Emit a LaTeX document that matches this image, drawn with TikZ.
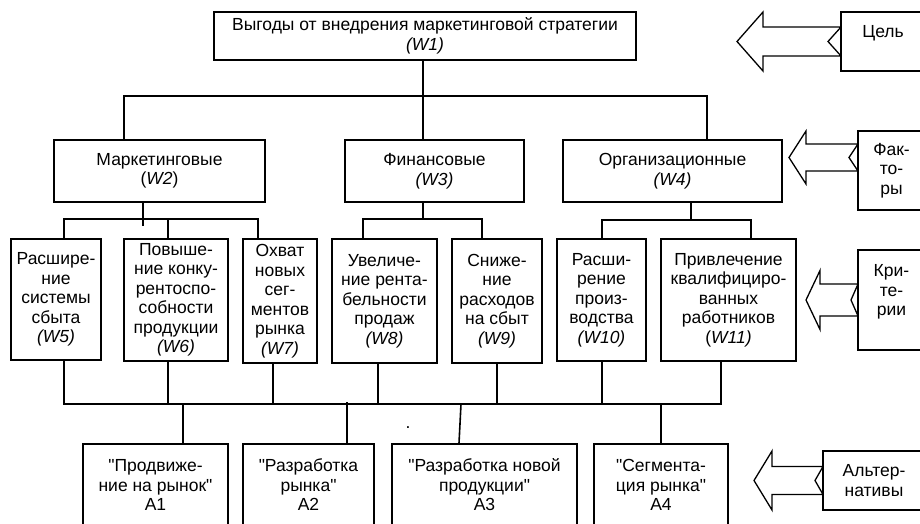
\documentclass[tikz,border=0pt]{standalone}
\usepackage{fontspec}
\setmainfont{Liberation Sans}[Ligatures=TeXOff]
\newcommand{\boxfont}{\fontsize{17.5}{19.5}\selectfont}
% left-pointing block arrow with a notched tail:
% tip x, head x, tail x, notch x, mid y, head half-height, shaft half-height
\newcommand{\leftblockarrow}[7]{%
  \draw[arrowline] (#3,#5-#7) -- (#2,#5-#7) -- (#2,#5-#6) -- (#1,#5)
    -- (#2,#5+#6) -- (#2,#5+#7) -- (#3,#5+#7) -- (#4,#5) -- cycle;}
\begin{document}
\begin{tikzpicture}[x=1pt,y=-1pt,
  box/.style={draw, line width=1.6pt, inner sep=1pt, align=center,
              font=\boxfont, fill=white},
  link/.style={line width=1.6pt},
  arrowline/.style={line width=1.3pt, line join=miter}]
\useasboundingbox (0,0) rectangle (920,523);
\fill[white] (0,0) rectangle (920,523);
\clip (0,0) rectangle (920,523);

% goal
\node[box, minimum width=422pt, minimum height=48pt] (w1) at (425,36)
  {Выгоды от внедрения маркетинговой стратегии\\\textit{(W1)}};

% factors
\node[box, minimum width=211pt, minimum height=62pt] (m) at (159.5,171)
  {Маркетинговые\\(\textit{W2})};
\node[box, minimum width=179pt, minimum height=62pt] (f) at (434.5,171)
  {Финансовые\\\textit{(W3)}};
\node[box, minimum width=219pt, minimum height=62pt] (o) at (672.5,171)
  {Организационные\\\textit{(W4)}};

% criteria
\node[box, minimum width=90pt, minimum height=121pt] (w5) at (56,299.5)
  {Расшире-\\ние\\системы\\сбыта\\\textit{(W5)}};
\node[box, minimum width=104pt, minimum height=122pt] (w6) at (176,300)
  {Повыше-\\ние конку-\\рентоспо-\\собности\\продукции\\\textit{(W6)}};
\node[box, minimum width=74pt, minimum height=124pt] (w7) at (280,301)
  {Охват\\новых\\сег-\\ментов\\рынка\\\textit{(W7)}};
\node[box, minimum width=105pt, minimum height=124pt] (w8) at (384.5,301)
  {Увеличе-\\ние рента-\\бельности\\продаж\\\textit{(W8)}};
\node[box, minimum width=90pt, minimum height=124pt] (w9) at (497,301)
  {Сниже-\\ние\\расходов\\на сбыт\\\textit{(W9)}};
\node[box, minimum width=89pt, minimum height=122pt] (w10) at (601.5,300)
  {Расши-\\рение\\произ-\\водства\\\textit{(W10)}};
\node[box, minimum width=135pt, minimum height=122pt] (w11) at (728.5,300)
  {Привлечение\\квалифициро-\\ванных\\работников\\(\textit{W11)}};

% alternatives
\node[box, minimum width=145pt, minimum height=82pt] (alt1) at (155.5,485)
  {"Продвиже-\\ние на рынок"\\А1};
\node[box, minimum width=131pt, minimum height=82pt] (alt2) at (308.5,485)
  {"Разработка\\рынка"\\А2};
\node[box, minimum width=185pt, minimum height=82pt] (alt3) at (484.5,485)
  {"Разработка новой\\продукции"\\А3};
\node[box, minimum width=134pt, minimum height=82pt] (alt4) at (661,485)
  {"Сегмента-\\ция рынка"\\А4};
\node[font=\boxfont, inner sep=0pt, anchor=base] (dot) at (408,428) {.};

% goal -> factors
\coordinate (j0) at (423,96);
\coordinate (jl) at (124,96);
\coordinate (jr) at (707,96);
\draw[link] (j0 |- w1.south) -- (j0);
\draw[link] (jl |- m.north) -- (jl) -- (jr) -- (jr |- o.north);
\draw[link] (j0) -- (j0 |- f.north);

% marketing -> criteria
\coordinate (ma) at (64,219);
\coordinate (mb) at (168,219);
\coordinate (mc) at (258,219);
\coordinate (mx) at (143,226);
\draw[link] (mx |- m.south) -- (mx);
\draw[link] (ma |- w5.north) -- (ma) -- (mc) -- (mc |- w7.north);
\draw[link] (mb) -- (mb |- w6.north);

% finance -> criteria
\coordinate (fa) at (363,219);
\coordinate (fb) at (482,219);
\coordinate (fx) at (423,219);
\draw[link] (fx |- f.south) -- (fx);
\draw[link] (fa |- w8.north) -- (fa) -- (fb) -- (fb |- w9.north);

% organisation -> criteria
\coordinate (oa) at (602,220);
\coordinate (ob) at (751,220);
\coordinate (ox) at (691,220);
\draw[link] (ox |- o.south) -- (ox);
\draw[link] (oa |- w10.north) -- (oa) -- (ob) -- (ob |- w11.north);

% criteria -> alternatives bus
\coordinate (c5) at (64,404);
\coordinate (c6) at (168,404);
\coordinate (c7) at (273,404);
\coordinate (c8) at (378,404);
\coordinate (c9) at (497,404);
\coordinate (c10) at (602,404);
\coordinate (c11) at (721,404);
\draw[link] (c5 |- w5.south) -- (c5) -- (c11) -- (c11 |- w11.south);
\draw[link] (c6 |- w6.south) -- (c6);
\draw[link] (c7 |- w7.south) -- (c7);
\draw[link] (c8 |- w8.south) -- (c8);
\draw[link] (c9 |- w9.south) -- (c9);
\draw[link] (c10 |- w10.south) -- (c10);

\coordinate (a1) at (183,404);
\coordinate (a2) at (347,402);
\coordinate (a3) at (461,404);
\coordinate (a4) at (661,404);
\draw[link] (a1) -- (a1 |- alt1.north);
\draw[link] (a2) -- (a2 |- alt2.north);
\draw[link] (a3) -- ([xshift=-2pt]a3 |- alt3.north);
\draw[link] (a4) -- (a4 |- alt4.north);

% level arrows
\leftblockarrow{737}{763}{841}{828}{41.5}{29.5}{14.5}
\leftblockarrow{789}{806}{858}{849}{157.5}{26.5}{13.5}
\leftblockarrow{806}{820}{858}{851}{300}{29.5}{16}
\leftblockarrow{754}{772}{823}{815}{480.5}{29.5}{14}

% level labels
\node[box, minimum width=84pt, minimum height=59pt] (goal) at (883,41.5)
  {Цель\\\mbox{}};
\node[box, minimum width=67pt, minimum height=79pt] (factors) at (891.5,170.5)
  {Фак-\\то-\\ры};
\node[box, minimum width=67pt, minimum height=100pt] (criteria) at (891.5,300)
  {Кри-\\те-\\рии\\\mbox{}};
\node[box, minimum width=102pt, minimum height=59pt] (alts) at (874,480.5)
  {Альтер-\\нативы};
\end{tikzpicture}
\end{document}
